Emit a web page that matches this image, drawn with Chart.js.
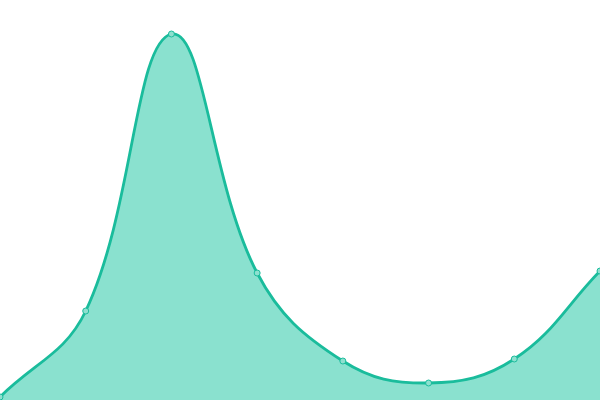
<!DOCTYPE html>
<html>
<head>
<meta charset="utf-8">
<script src="https://cdn.jsdelivr.net/npm/chart.js@4"></script>
<style>
  html, body { margin: 0; padding: 0; background: #fff; }
  #wrap { width: 600px; height: 400px; }
</style>
</head>
<body>
<div id="wrap"><canvas id="areaChart"></canvas></div>
<script>
const labels = ["1", "2", "3", "4", "5", "6", "7", "8"];
const values = [0.75, 22.25, 91.5, 31.75, 9.75, 4.25, 10.25, 32.25];
const yMin = 0;
const yMax = 100;

const ctx = document.getElementById("areaChart");
new Chart(ctx, {
  type: "line",
  data: {
    labels: labels,
    datasets: [
      {
        data: values,
        borderColor: "#1abc9c",
        backgroundColor: "rgba(22,196,160,0.5)",
        borderWidth: 2.8,
        tension: 0.4,
        fill: true,
        pointRadius: 3,
        pointBorderWidth: 1,
        pointBackgroundColor: "#8ee0cf",
        pointBorderColor: "#1abc9c",
      },
    ],
  },
  options: {
    responsive: true,
    maintainAspectRatio: false,
    animation: false,
    // no extra room around the points, the area runs to the canvas edges
    layout: { padding: 0, autoPadding: false },
    plugins: {
      legend: { display: false },
      tooltip: { enabled: false },
    },
    scales: {
      x: { display: false },
      y: { display: false, min: yMin, max: yMax },
    },
  },
});
</script>
</body>
</html>
